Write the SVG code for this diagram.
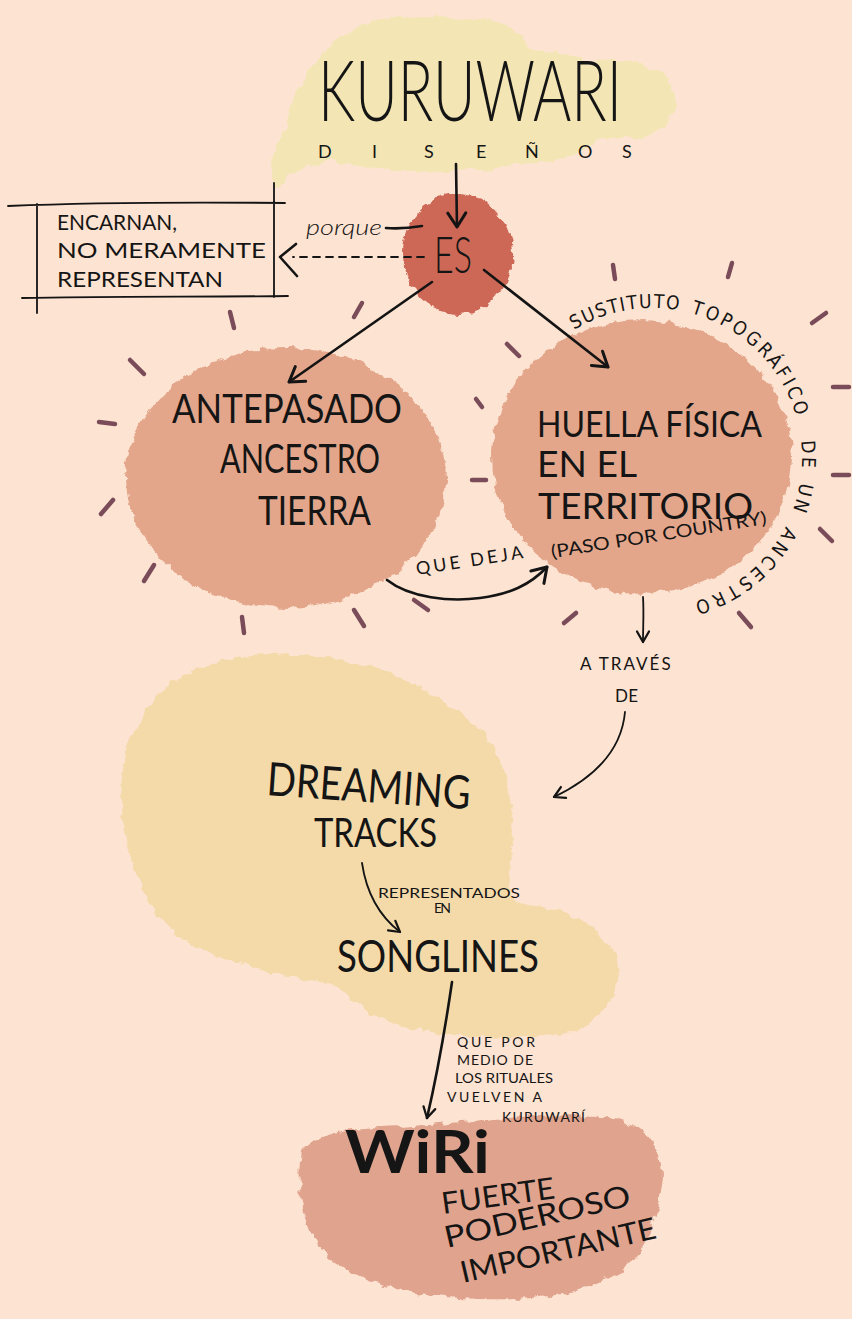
<svg xmlns="http://www.w3.org/2000/svg" width="852" height="1319" viewBox="0 0 852 1319">
<defs>
<filter id="fuzz" x="-10%" y="-10%" width="120%" height="120%">
<feTurbulence type="fractalNoise" baseFrequency="0.09" numOctaves="3" seed="4" result="n"/>
<feDisplacementMap in="SourceGraphic" in2="n" scale="9" xChannelSelector="R" yChannelSelector="G"/>
</filter>
<marker id="ah" viewBox="0 0 24 24" refX="20" refY="12" markerWidth="24" markerHeight="24" orient="auto" markerUnits="userSpaceOnUse">
<path d="M6,3 L20,12 L6,21" fill="none" stroke="#141414" stroke-width="3" stroke-linecap="round" stroke-linejoin="round"/>
</marker>
<marker id="ahs" viewBox="0 0 24 24" refX="20" refY="12" markerWidth="18" markerHeight="18" orient="auto" markerUnits="userSpaceOnUse">
<path d="M6,4 L20,12 L6,20" fill="none" stroke="#141414" stroke-width="3" stroke-linecap="round" stroke-linejoin="round"/>
</marker>
</defs>
<style>
.t{font-family:Lato,"DejaVu Sans Condensed",sans-serif;font-weight:300;fill:#151515}
.m{font-weight:400}
.b{font-weight:700}
.a{font-family:"DejaVu Sans Condensed","DejaVu Sans",sans-serif;font-stretch:condensed;font-weight:400;fill:#151515}
.c{fill:none;stroke:#141414;stroke-width:2.6;stroke-linecap:round;stroke-linejoin:round}
.thin{stroke-width:1.8}
.ray{stroke:#7a4b58;stroke-width:4.5;stroke-linecap:round}
.blob{filter:url(#fuzz)}
</style>
<rect width="852" height="1319" fill="#fde3d1"/>

<!-- rays -->
<g id="rays">
<line class="ray" x1="230" y1="312" x2="234" y2="328"/>
<line class="ray" x1="354" y1="317" x2="362" y2="303"/>
<line class="ray" x1="130" y1="360" x2="144" y2="374"/>
<line class="ray" x1="99" y1="422" x2="115" y2="424"/>
<line class="ray" x1="101" y1="514" x2="113" y2="500"/>
<line class="ray" x1="144" y1="581" x2="154" y2="565"/>
<line class="ray" x1="242" y1="617" x2="244" y2="633"/>
<line class="ray" x1="354" y1="610" x2="364" y2="626"/>
<line class="ray" x1="414" y1="600" x2="428" y2="610"/>
<line class="ray" x1="472" y1="480" x2="486" y2="480"/>
<line class="ray" x1="476" y1="399" x2="482" y2="407"/>
<line class="ray" x1="507" y1="344" x2="519" y2="356"/>
<line class="ray" x1="564" y1="623" x2="576" y2="613"/>
<line class="ray" x1="613" y1="265" x2="615" y2="279"/>
<line class="ray" x1="728" y1="277" x2="732" y2="263"/>
<line class="ray" x1="812" y1="323" x2="826" y2="313"/>
<line class="ray" x1="833" y1="387" x2="849" y2="387"/>
<line class="ray" x1="833" y1="475" x2="849" y2="475"/>
<line class="ray" x1="820" y1="529" x2="832" y2="541"/>
<line class="ray" x1="739" y1="613" x2="751" y2="627"/>
</g>

<!-- KURUWARI node -->
<g id="kuruwari">
<path class="blob" fill="#f3e6b4" d="M272,188 C268,165 276,140 286,125 C290,100 300,80 318,60 C330,40 360,20 395,18 C430,14 470,18 495,22 C515,26 525,38 530,50 C555,48 570,55 585,62 C610,58 640,62 660,72 C680,85 680,110 665,125 C650,138 625,140 600,140 C580,155 555,165 520,163 C490,172 450,172 420,170 C385,172 350,165 330,160 C310,166 295,170 288,175 C282,180 278,190 272,188 Z"/>
<text class="t" x="318" y="121" font-size="84" textLength="304" lengthAdjust="spacingAndGlyphs">KURUWARI</text>
<g class="t m" font-size="18">
<text x="318" y="158">D</text><text x="372" y="158">I</text><text x="424" y="158">S</text><text x="476" y="158">E</text><text x="525" y="158">Ñ</text><text x="578" y="158">O</text><text x="622" y="158">S</text>
</g>
</g>

<!-- ES node -->
<g id="es">
<ellipse class="blob" cx="458" cy="254" rx="55" ry="60" fill="#cd6757"/>
<text class="t" x="434" y="273" font-size="52" textLength="38" lengthAdjust="spacingAndGlyphs">ES</text>
</g>

<!-- Encarnan box -->
<g id="encarnan">
<path class="c thin" d="M8,206 C80,203 180,202 285,203 M22,298 C100,296 200,297 288,296 M37,204 L37,313 M274,183 L274,297"/>
<g class="t m" font-size="22">
<text x="57" y="230" textLength="120" lengthAdjust="spacingAndGlyphs">ENCARNAN,</text>
<text x="57" y="258" textLength="209" lengthAdjust="spacingAndGlyphs">NO MERAMENTE</text>
<text x="57" y="287" textLength="166" lengthAdjust="spacingAndGlyphs">REPRESENTAN</text>
</g>
</g>

<!-- Antepasado node -->
<g id="antepasado">
<ellipse class="blob" cx="286" cy="478" rx="160" ry="130" fill="#e3a68b"/>
<g class="t m" font-size="41">
<text x="172" y="423" textLength="230" lengthAdjust="spacingAndGlyphs">ANTEPASADO</text>
<text x="220" y="473" textLength="160" lengthAdjust="spacingAndGlyphs">ANCESTRO</text>
<text x="258" y="525" textLength="113" lengthAdjust="spacingAndGlyphs">TIERRA</text>
</g>
</g>

<!-- Huella node -->
<g id="huella">
<ellipse class="blob" cx="642" cy="457" rx="150" ry="137" fill="#e3a68b"/>
<g class="t m" font-size="36">
<text x="537" y="437" textLength="225" lengthAdjust="spacingAndGlyphs">HUELLA FÍSICA</text>
<text x="537" y="477" textLength="100" lengthAdjust="spacingAndGlyphs">EN  EL</text>
<text x="538" y="519" textLength="215" lengthAdjust="spacingAndGlyphs">TERRITORIO</text>
</g>
<text class="t m" x="552" y="558" font-size="18" textLength="218" lengthAdjust="spacingAndGlyphs" transform="rotate(-9 552 558)">(PASO POR COUNTRY)</text>
<path id="arc" d="M572.5,330.8 A150,150 0 1 1 678,605.7" fill="none"/>
<g class="a" font-size="19">
<text letter-spacing="1.5"><textPath href="#arc" startOffset="2">SUSTITUTO</textPath></text>
<text letter-spacing="3"><textPath href="#arc" startOffset="123">TOPOGRÁFICO</textPath></text>
<text letter-spacing="3"><textPath href="#arc" startOffset="302">DE</textPath></text>
<text letter-spacing="3"><textPath href="#arc" startOffset="344">UN</textPath></text>
<text letter-spacing="4"><textPath href="#arc" startOffset="390">ANCESTRO</textPath></text>
</g>
</g>

<!-- Dreaming node -->
<g id="dreaming">
<path class="blob" fill="#f4daa9" d="M125,830 C110,760 140,690 200,668 C240,650 290,652 340,660 C390,668 430,690 470,720 C505,750 515,800 512,850 C510,880 505,895 520,905 C560,905 600,925 615,955 C622,985 610,1015 580,1030 C540,1040 470,1040 420,1030 C380,1022 350,1005 340,985 C310,980 270,975 230,960 C170,945 135,900 125,830 Z"/>
<g class="t m">
<text x="266" y="795" font-size="46" textLength="204" lengthAdjust="spacingAndGlyphs" transform="rotate(4 266 795)">DREAMING</text>
<text x="314" y="847" font-size="40" textLength="123" lengthAdjust="spacingAndGlyphs">TRACKS</text>
<text x="337" y="972" font-size="44" textLength="202" lengthAdjust="spacingAndGlyphs">SONGLINES</text>
</g>
</g>

<!-- Wiri node -->
<g id="wiri">
<path class="blob" fill="#e0a48e" d="M300,1160 C300,1140 330,1130 380,1128 C450,1125 530,1112 600,1116 C645,1120 668,1150 662,1185 C656,1220 648,1250 620,1272 C580,1298 520,1302 460,1298 C390,1294 340,1275 318,1245 C302,1222 298,1190 300,1160 Z"/>
<text class="t b" x="345" y="1173" font-size="60" textLength="145" lengthAdjust="spacingAndGlyphs">WiRi</text>
<g class="t m" font-size="30">
<text x="443" y="1214" textLength="114" lengthAdjust="spacingAndGlyphs" transform="rotate(-8 443 1214)">FUERTE</text>
<text x="447" y="1248" textLength="190" lengthAdjust="spacingAndGlyphs" transform="rotate(-13 447 1248)">PODEROSO</text>
<text x="463" y="1283" textLength="200" lengthAdjust="spacingAndGlyphs" transform="rotate(-13 463 1283)">IMPORTANTE</text>
</g>
</g>

<!-- connectors -->
<g id="connectors">
<path class="c" d="M456,164 L457,227" marker-end="url(#ah)"/>
<path class="c" d="M386,228 C398,229 410,228 422,226"/>
<path class="c thin" d="M424,257 L293,257" stroke-dasharray="7 6"/>
<path class="c" d="M296,244 L280,257 L297,276"/>
<path class="c" d="M432,282 L289,382" marker-end="url(#ah)"/>
<path class="c" d="M484,270 L608,367" marker-end="url(#ah)"/>
<path class="c" d="M387,580 C410,598 450,602 480,598 C510,594 530,585 547,567" marker-end="url(#ah)"/>
<path class="c thin" d="M643,597 C644,612 643,628 643,642" marker-end="url(#ahs)"/>
<path class="c thin" d="M625,712 C622,745 600,775 554,797" marker-end="url(#ahs)"/>
<path class="c thin" d="M362,863 C366,890 378,915 400,932" marker-end="url(#ahs)"/>
<path class="c" d="M452,982 C445,1030 437,1075 427,1118" marker-end="url(#ahs)"/>
</g>

<!-- connector labels -->
<g id="labels" class="t m">
<text class="t" x="306" y="235" font-size="21" font-style="italic" textLength="76" lengthAdjust="spacingAndGlyphs">porque</text>
<text x="417" y="575" font-size="18" textLength="108" lengthAdjust="spacing" transform="rotate(-9 417 575)">QUE DEJA</text>
<text x="580" y="670" font-size="17" letter-spacing="2">A TRAVÉS</text>
<text x="615" y="702" font-size="17" textLength="23" lengthAdjust="spacing">DE</text>
<text x="378" y="898" font-size="14" textLength="142" lengthAdjust="spacingAndGlyphs">REPRESENTADOS</text>
<text x="434" y="913" font-size="14" textLength="17" lengthAdjust="spacing">EN</text>
<text x="457" y="1047" font-size="14" textLength="78" lengthAdjust="spacing">QUE POR</text>
<text x="457" y="1065" font-size="14" textLength="76" lengthAdjust="spacing">MEDIO DE</text>
<text x="455" y="1083" font-size="14" textLength="98" lengthAdjust="spacingAndGlyphs">LOS RITUALES</text>
<text x="447" y="1102" font-size="14" textLength="95" lengthAdjust="spacing">VUELVEN A</text>
<text x="502" y="1122" font-size="14" textLength="83" lengthAdjust="spacing">KURUWARÍ</text>
</g>
</svg>
